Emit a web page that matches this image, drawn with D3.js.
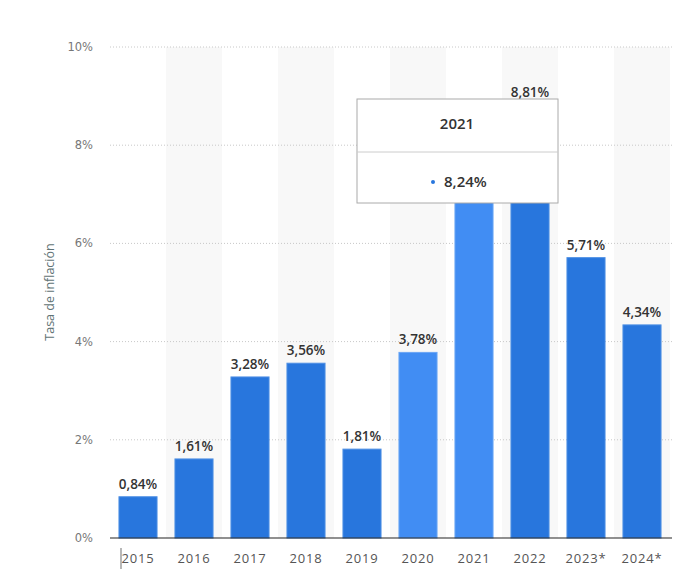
<!DOCTYPE html>
<html lang="es">
<head>
<meta charset="UTF-8">
<script src="https://d3js.org/d3.v7.min.js"></script>
<style>
  body { margin: 0; background: #fff; }
  svg { display: block; }
</style>
</head>
<body>
<svg id="chart" width="677" height="573"></svg>
<script>
  // datos
  const years = ["2015", "2016", "2017", "2018", "2019", "2020", "2021", "2022", "2023*", "2024*"];
  const inflation = [0.84, 1.61, 3.28, 3.56, 1.81, 3.78, 8.24, 8.81, 5.71, 4.34];
  const highlighted = ["2020", "2021"];
  const yTicks = [0, 2, 4, 6, 8, 10];
  const tooltipYear = "2021";

  const svg = d3.select("#chart");
  const plotLeft = 110, plotRight = 670, plotTop = 47, plotBottom = 538;

  const x = d3.scaleBand().domain(years).range([plotLeft, plotRight]).padding(0);
  const y = d3.scaleLinear().domain([0, 10]).range([plotBottom, plotTop]);
  const fmt = v => v.toFixed(2).replace(".", ",") + "%";

  // alternating background bands
  svg.append("g").selectAll("rect")
    .data(years.filter((d, i) => i % 2 === 1))
    .enter().append("rect")
    .attr("x", d => x(d))
    .attr("y", plotTop)
    .attr("width", x.bandwidth())
    .attr("height", plotBottom - plotTop)
    .attr("fill", "#f8f8f8");

  // grid lines
  svg.append("g").selectAll("line")
    .data(yTicks.filter(t => t > 0))
    .enter().append("line")
    .attr("x1", plotLeft).attr("x2", 672)
    .attr("y1", d => y(d)).attr("y2", d => y(d))
    .attr("stroke", "#c8c8c8")
    .attr("stroke-dasharray", "1,2");

  // y tick labels
  svg.append("g").selectAll("text")
    .data(yTicks)
    .enter().append("text")
    .attr("x", 93)
    .attr("y", d => y(d) + 4)
    .attr("text-anchor", "end")
    .attr("font-family", "'DejaVu Sans', sans-serif")
    .attr("font-size", 11.5)
    .attr("fill", "#777")
    .text(d => d + "%");

  // y axis title
  svg.append("text")
    .attr("transform", "translate(54,292) rotate(-90)")
    .attr("text-anchor", "middle")
    .attr("font-family", "'Open Sans', sans-serif")
    .attr("font-size", 12.5)
    .attr("fill", "#5f7375")
    .text("Tasa de inflación");

  // bars
  const inset = x.bandwidth() * 0.16;
  svg.append("g").selectAll("rect")
    .data(years)
    .enter().append("rect")
    .attr("x", d => x(d) + inset)
    .attr("y", (d, i) => y(inflation[i]))
    .attr("width", x.bandwidth() - 2 * inset)
    .attr("height", (d, i) => plotBottom - y(inflation[i]))
    .attr("fill", d => highlighted.includes(d) ? "#418df3" : "#2876dd")
    .attr("stroke", d => highlighted.includes(d) ? "#6aa6f5" : "#4e8fe4")
    .attr("stroke-width", 1);

  // value labels
  svg.append("g").selectAll("text")
    .data(years)
    .enter().append("text")
    .attr("x", d => x(d) + x.bandwidth() / 2)
    .attr("y", (d, i) => y(inflation[i]) - 8)
    .attr("text-anchor", "middle")
    .attr("font-family", "'Open Sans', sans-serif")
    .attr("font-weight", 600)
    .attr("font-size", 13.5)
    .attr("fill", "#333")
    .text((d, i) => fmt(inflation[i]));

  // baseline
  svg.append("line")
    .attr("x1", plotLeft).attr("x2", 672)
    .attr("y1", plotBottom).attr("y2", plotBottom)
    .attr("stroke", "#222").attr("stroke-width", 1.2);

  // x labels
  svg.append("g").selectAll("text")
    .data(years)
    .enter().append("text")
    .attr("x", d => x(d) + x.bandwidth() / 2)
    .attr("y", 563)
    .attr("text-anchor", "middle")
    .attr("font-family", "'Open Sans', sans-serif")
    .attr("font-size", 13)
    .attr("letter-spacing", 0.8)
    .attr("fill", "#555")
    .text(d => d);

  // little marker by the first label
  svg.append("line")
    .attr("x1", 121).attr("x2", 121)
    .attr("y1", 548).attr("y2", 569)
    .attr("stroke", "#888").attr("stroke-width", 1.2);

  // tooltip
  const ti = years.indexOf(tooltipYear);
  const tip = svg.append("g").attr("transform", "translate(357,99)");
  tip.append("rect")
    .attr("width", 201).attr("height", 104)
    .attr("fill", "#fff")
    .attr("stroke", "#aaa");
  tip.append("line")
    .attr("x1", 0).attr("x2", 201)
    .attr("y1", 53).attr("y2", 53)
    .attr("stroke", "#ccc");
  tip.append("text")
    .attr("x", 100).attr("y", 30)
    .attr("text-anchor", "middle")
    .attr("font-family", "'Open Sans', sans-serif")
    .attr("font-weight", 600)
    .attr("font-size", 15)
    .attr("fill", "#333")
    .text(tooltipYear);
  tip.append("circle")
    .attr("cx", 76).attr("cy", 83)
    .attr("r", 2)
    .attr("fill", "#2876dd");
  tip.append("text")
    .attr("x", 87).attr("y", 88)
    .attr("font-family", "'Open Sans', sans-serif")
    .attr("font-weight", 600)
    .attr("font-size", 15)
    .attr("fill", "#333")
    .text(fmt(inflation[ti]));
</script>
</body>
</html>
